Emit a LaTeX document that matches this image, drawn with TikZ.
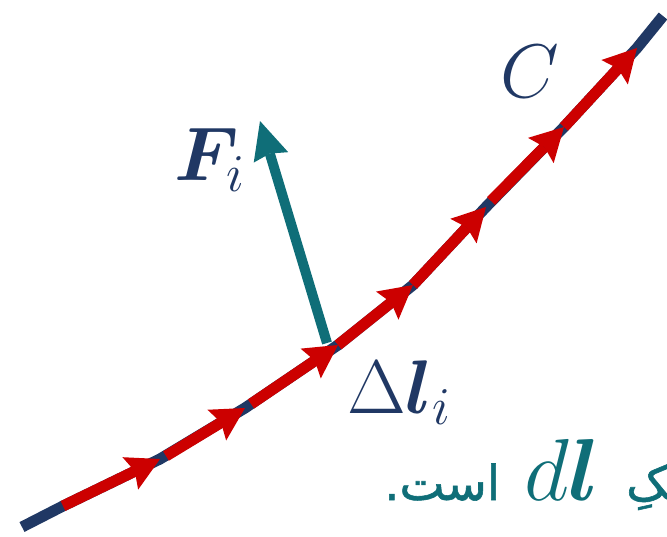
\RequirePackage{fix-cm}
\documentclass[tikz,border=0pt]{standalone}
\usepackage{amsmath}
\usepackage{bm}
\usepackage{fontspec}
\newfontfamily\arabicfont[Script=Arabic,FakeBold=1.2]{DejaVu Sans}
\TeXXeTstate=1
\usetikzlibrary{arrows.meta}
\definecolor{navy}{HTML}{203864}
\definecolor{arrred}{HTML}{CC0000}
\definecolor{tealc}{HTML}{0F6E78}
\begin{document}
\begin{tikzpicture}[x=1pt,y=-1pt,
  curve/.style={line width=11pt, draw=navy, line cap=butt, line join=round},
  redarrow/.style={line width=11pt, draw=arrred, line cap=butt,
    -{Stealth[length=33pt,width=36pt,inset=5pt,line width=0pt]}},
  force/.style={line width=10pt, draw=tealc, line cap=butt,
    -{Stealth[length=38pt,width=36pt,inset=4pt,line width=0pt]}},
  mathlabel/.style={anchor=base west, inner sep=0pt, font=\fontsize{76}{80}\selectfont},
  persian/.style={anchor=base west, inner sep=0pt, text=tealc, font=\arabicfont\fontsize{48}{52}\selectfont}]
\useasboundingbox (0,0) rectangle (667,536);
\clip (0,0) rectangle (667,536);
% points on the curve C
\coordinate (p0) at (22,527);
\coordinate (s1) at (63,506);
\coordinate (t1) at (160,459);
\coordinate (s2) at (166,456);
\coordinate (t2) at (245,408);
\coordinate (s3) at (251,404);
\coordinate (t3) at (338,345);
\coordinate (t4) at (413,285);
\coordinate (t5) at (486,207);
\coordinate (s6) at (491,201);
\coordinate (t6) at (564,127);
\coordinate (t7) at (637,48);
\coordinate (pe) at (663,16);
% force vector
\coordinate (fb) at (327,343);
\coordinate (ft) at (260,121);
% curve
\draw[curve] (p0) -- (s1) -- (t1) -- (t2) -- (t3) -- (t4) -- (t5) -- (t6) -- (t7) -- (pe);
% force
\draw[force] (fb) -- (ft);
% red arrows
\draw[redarrow] (s1) -- (t1);
\draw[redarrow] (s2) -- (t2);
\draw[redarrow] (s3) -- (t3);
\draw[redarrow] (t3) -- (t4);
\draw[redarrow] (t4) -- (t5);
\draw[redarrow] (s6) -- (t6);
\draw[redarrow] (t6) -- (t7);
% labels
\node[mathlabel, text=navy] (clab) at (500,97) {$C$};
\node[mathlabel, text=navy] (flab) at (174,180) {$\bm{F}_{i}$};
\node[mathlabel, text=navy] (dlab) at (347,413) {$\Delta\bm{l}_{i}$};
\node[persian] (ast) at (384,500) {\beginR است.\endR};
\node[mathlabel, text=tealc, font=\fontsize{88}{92}\selectfont] (dl) at (524,500) {$d\bm{l}$};
\node[persian] (kaf) at (626,500) {\beginR ـکِ\endR};
\end{tikzpicture}
\end{document}
